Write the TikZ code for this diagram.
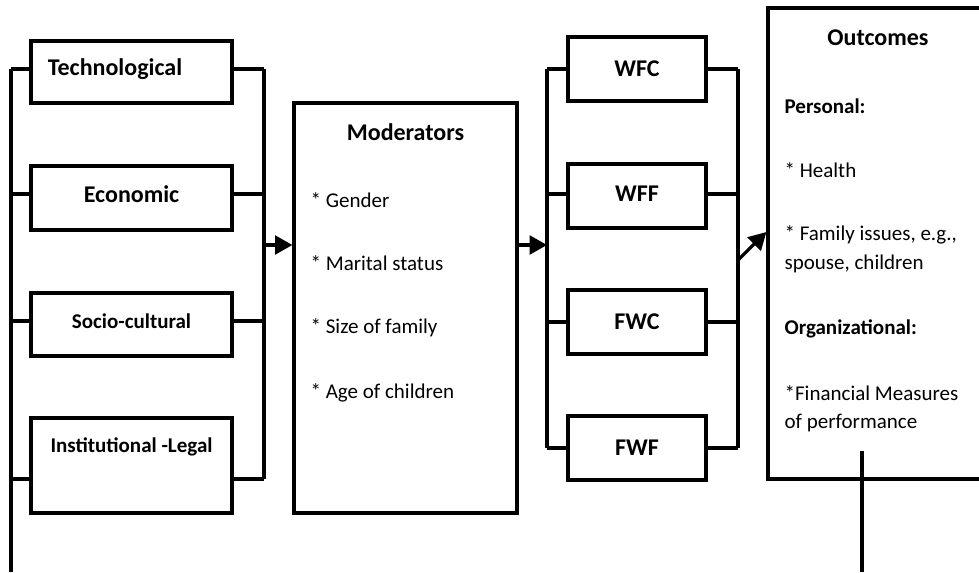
\documentclass[tikz,border=0pt]{standalone}
\usepackage{fontspec}
\setmainfont{Carlito}
\usetikzlibrary{arrows.meta,positioning}

\begin{document}
\begin{tikzpicture}
[x=0.75pt,y=-0.75pt,line width=2.4pt,>={Triangle[length=13pt,width=14pt]},
box/.style={draw,rectangle,inner sep=0pt},
factor/.style={box,minimum width=150.75pt,minimum height=47.25pt},
wbox/.style={box,minimum width=103.5pt,minimum height=48pt},
big/.style={inner sep=0pt,font=\fontsize{18}{22}\selectfont\bfseries},
small/.style={inner sep=0pt,font=\fontsize{15.75}{19}\selectfont\bfseries},
item/.style={anchor=west,inner sep=0pt,font=\fontsize{15.75}{19}\selectfont},]

\useasboundingbox (0,0) rectangle (979,572);
\clip (0,0) rectangle (979,572);

%Factor boxes
\node (tech) at (131.5,72) [factor,minimum height=46.5pt] {};
\node (econ) at (131.5,198) [factor,minimum height=48pt] {};
\node (socio) at (131.5,324.5) [factor] {};
\node (inst) at (131.5,465.5) [factor,minimum height=71.25pt] {};
\node (techtxt) at (115,69) [big] {Technological};
\node (econtxt) at (131.5,194) [big] {Economic};
\node (sociotxt) at (131.5,321) [small] {Socio-cultural};
\node (insttxt) at (131.5,447) [small] {Institutional -Legal};

%Brackets round the factors
\coordinate (L1) at (11,69);
\coordinate (L2) at (11,572);
\coordinate (R1) at (264,69);
\coordinate (R2) at (264,479);
\draw (L1) -- (L2);
\draw (R1) -- (R2);
\foreach \n/\y in {tech/69,econ/194,socio/321,inst/479}
  {\draw (L1 |- 0,\y) -- (\n.west |- 0,\y);
   \draw (\n.east |- 0,\y) -- (R1 |- 0,\y);}

%Moderators
\node (mod) at (405.5,308) [box,minimum width=167.25pt,minimum height=307.5pt] {};
\node (modtxt) at (405.5,132) [big] {Moderators};
\node (m1) at (309,200) [item] {* Gender};
\node (m2) at (309,263) [item] {* Marital status};
\node (m3) at (309,328) [item] {* Size of family};
\node (m4) at (309,393) [item] {* Age of children};
\draw[->] (R1 |- 0,245) -- (mod.west |- 0,245);

%Conflict boxes
\node (wfc) at (637,69) [wbox] {};
\node (wff) at (637,196) [wbox] {};
\node (fwc) at (637,322) [wbox] {};
\node (fwf) at (637,448) [wbox] {};
\node (wfctxt) at (637,69) [big] {WFC};
\node (wfftxt) at (637,194) [big] {WFF};
\node (fwctxt) at (637,322) [big] {FWC};
\node (fwftxt) at (637,448) [big] {FWF};

\coordinate (P1) at (547,69);
\coordinate (P2) at (547,448);
\coordinate (Q1) at (738,69);
\coordinate (Q2) at (738,448);
\draw (P1) -- (P2);
\draw (Q1) -- (Q2);
\foreach \n/\y in {wfc/69,wff/194,fwc/322,fwf/448}
  {\draw (P1 |- 0,\y) -- (\n.west |- 0,\y);
   \draw (\n.east |- 0,\y) -- (Q1 |- 0,\y);}
\draw[->] (mod.east |- 0,245) -- (P1 |- 0,245);

%Outcomes
\node (out) at (878,243.5) [box,minimum width=165pt,minimum height=353.25pt] {};
\node (outtxt) at (878,38) [big] {Outcomes};
\node (o1) at (783,106) [item,font=\fontsize{15.75}{19}\selectfont\bfseries] {Personal:};
\node (o2) at (783,170) [item] {* Health};
\node (o3) at (783,235) [item] {* Family issues, e.g.,};
\node (o4) at (783,264) [item] {spouse, children};
\node (o5) at (783,329) [item,font=\fontsize{15.75}{19}\selectfont\bfseries] {Organizational:};
\node (o6) at (783,393) [item] {*Financial Measures};
\node (o7) at (783,423) [item] {of performance};
\draw[->] (Q1 |- 0,260) -- (out.west |- 0,232);

\coordinate (F1) at (862,451);
\coordinate (F2) at (862,572);
\draw (F1) -- (F2);

\end{tikzpicture}
\end{document}
